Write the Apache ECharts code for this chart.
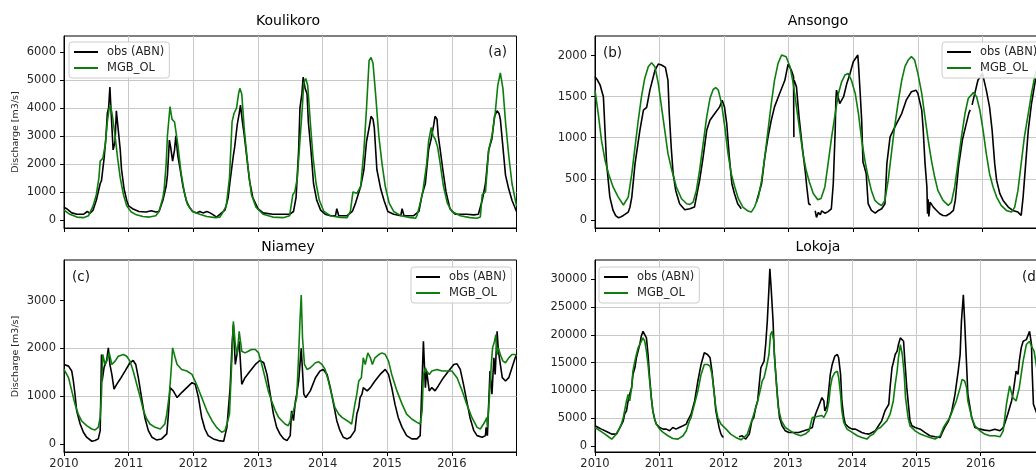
<!DOCTYPE html>
<html>
<head>
<meta charset="utf-8">
<script src="https://cdn.jsdelivr.net/npm/echarts@6/dist/echarts.min.js"></script>
<style>
  html, body { margin: 0; padding: 0; overflow: hidden; background: #fff; }
  #one { width: 1048px; height: 470px; }
</style>
</head>
<body>
<div id="one"></div>
<script>
// discharge series, [decimal year, m3/s]
var kouObs = [[2010.00,450],[2010.04,400],[2010.12,250],[2010.20,200],[2010.30,200],[2010.36,300],[2010.40,230],[2010.45,350],[2010.50,700],[2010.56,1300],[2010.58,1400],[2010.62,2200],[2010.65,3000],[2010.67,3800],[2010.69,4000],[2010.71,4750],[2010.73,3800],[2010.76,2500],[2010.79,2800],[2010.81,3900],[2010.84,3200],[2010.87,2500],[2010.89,1800],[2010.93,1100],[2010.97,700],
  [2011.00,500],[2011.06,400],[2011.16,300],[2011.27,280],[2011.35,330],[2011.42,280],[2011.47,300],[2011.53,700],[2011.58,1200],[2011.60,1600],[2011.63,2850],[2011.65,2600],[2011.68,2100],[2011.71,2500],[2011.73,3000],[2011.76,2300],[2011.79,1900],[2011.84,1200],[2011.89,700],[2011.94,450],[2011.99,300],
  [2012.05,250],[2012.10,300],[2012.15,250],[2012.21,300],[2012.26,250],[2012.31,180],[2012.36,100],[2012.41,200],[2012.49,350],[2012.54,800],[2012.57,1400],[2012.62,2300],[2012.64,2600],[2012.68,3400],[2012.71,3800],[2012.73,4100],[2012.76,3500],[2012.79,3000],[2012.83,2200],[2012.87,1400],[2012.92,800],[2013.00,400],
  [2013.08,250],[2013.23,200],[2013.39,200],[2013.49,200],[2013.55,300],[2013.59,800],[2013.63,2500],[2013.65,4000],[2013.68,4500],[2013.70,5100],[2013.73,4700],[2013.76,4500],[2013.78,3500],[2013.82,2500],[2013.86,1300],[2013.91,700],[2013.97,350],[2014.04,200],
  [2014.12,150],[2014.20,150],[2014.22,400],[2014.25,150],[2014.38,150],[2014.46,300],[2014.51,600],[2014.59,1200],[2014.64,1800],[2014.68,2800],[2014.72,3300],[2014.75,3700],[2014.78,3600],[2014.80,3300],[2014.84,1800],[2014.90,1100],[2014.95,700],[2015.01,300],
  [2015.10,200],[2015.21,150],[2015.23,400],[2015.26,150],[2015.41,150],[2015.49,300],[2015.54,900],[2015.59,1300],[2015.64,2500],[2015.68,2900],[2015.72,3400],[2015.74,3700],[2015.77,3600],[2015.79,3000],[2015.82,2500],[2015.86,1800],[2015.91,1000],[2015.97,400],[2016.05,200],
  [2016.08,200],[2016.23,200],[2016.34,180],[2016.41,200],[2016.47,700],[2016.52,1300],[2016.57,2500],[2016.62,2900],[2016.66,3700],[2016.70,3900],[2016.73,3800],[2016.75,3600],[2016.79,2600],[2016.83,1600],[2016.88,1100],[2016.93,700],[2017.00,300]];

var kouSim = [[2010.00,350],[2010.09,200],[2010.20,100],[2010.30,80],[2010.38,150],[2010.45,500],[2010.50,900],[2010.54,1500],[2010.56,2100],[2010.60,2200],[2010.64,2700],[2010.67,3500],[2010.70,4000],[2010.72,4100],[2010.75,3700],[2010.79,3000],[2010.83,2200],[2010.87,1500],[2010.92,900],[2010.97,500],
  [2011.04,280],[2011.12,180],[2011.22,120],[2011.32,100],[2011.42,150],[2011.47,300],[2011.53,800],[2011.55,1100],[2011.58,2000],[2011.60,3000],[2011.64,4050],[2011.67,3600],[2011.71,3500],[2011.76,2700],[2011.81,1700],[2011.86,1000],[2011.91,550],[2011.99,300],
  [2012.10,200],[2012.21,120],[2012.34,80],[2012.41,100],[2012.44,200],[2012.51,500],[2012.56,1500],[2012.60,3500],[2012.63,3800],[2012.67,4000],[2012.70,4500],[2012.72,4700],[2012.75,4500],[2012.79,3200],[2012.85,1800],[2012.90,900],[2012.97,450],
  [2013.08,200],[2013.23,100],[2013.39,80],[2013.49,150],[2013.54,900],[2013.57,1000],[2013.61,1500],[2013.64,2500],[2013.68,3800],[2013.71,4900],[2013.74,5050],[2013.77,4800],[2013.81,3500],[2013.85,2300],[2013.90,1300],[2013.95,700],
  [2014.02,300],[2014.12,150],[2014.27,90],[2014.38,80],[2014.43,300],[2014.47,1000],[2014.53,950],[2014.59,1200],[2014.64,2500],[2014.68,4000],[2014.72,5700],[2014.75,5800],[2014.78,5600],[2014.82,4500],[2014.87,3000],[2014.92,2000],[2014.97,1200],
  [2015.03,600],[2015.10,300],[2015.21,150],[2015.36,80],[2015.44,60],[2015.46,150],[2015.51,600],[2015.55,1000],[2015.61,2000],[2015.64,2800],[2015.68,3300],[2015.71,3000],[2015.74,2900],[2015.78,2600],[2015.82,2000],[2015.87,1200],[2015.93,600],
  [2016.00,300],[2016.13,150],[2016.28,80],[2016.39,60],[2016.44,100],[2016.47,900],[2016.52,1000],[2016.57,2500],[2016.62,3000],[2016.67,3800],[2016.71,4800],[2016.75,5250],[2016.79,4700],[2016.83,3500],[2016.88,2300],[2016.93,1300],[2017.00,500]];

var ansObs = [[2010.00,1743],[2010.04,1700],[2010.08,1640],[2010.13,1500],[2010.155,1090],[2010.18,684],[2010.23,277],[2010.28,114],[2010.32,50],[2010.36,25],[2010.40,35],[2010.44,53],[2010.515,94],[2010.54,150],[2010.57,277],[2010.62,684],[2010.695,1090],[2010.75,1336],[2010.80,1370],[2010.85,1580],[2010.93,1825],[2010.98,1898],
  [2011.03,1886],[2011.09,1857],[2011.13,1700],[2011.15,1295],[2011.18,888],[2011.21,562],[2011.25,358],[2011.31,196],[2011.39,122],[2011.47,134],[2011.54,155],[2011.57,170],[2011.62,480],[2011.675,766],[2011.73,1090],[2011.78,1213],[2011.855,1295],[2011.93,1376],[2011.97,1458],
  [2012.005,1376],[2012.04,1173],[2012.08,766],[2012.12,440],[2012.16,318],[2012.21,196],[2012.265,134],[2012.38,null],[2012.50,216],[2012.53,236],[2012.58,440],[2012.63,766],[2012.68,1010],[2012.73,1213],[2012.78,1376],[2012.84,1500],[2012.89,1600],[2012.94,1700],[2012.99,1898],
  [2013.04,1825],[2013.075,1743],[2013.08,1010],[2013.082,null],[2013.085,1700],[2013.12,1620],[2013.16,1254],[2013.21,888],[2013.26,562],[2013.28,400],[2013.31,196],[2013.34,180],[2013.38,null],[2013.41,110],[2013.43,30],[2013.46,90],[2013.49,60],[2013.51,110],[2013.56,80],[2013.61,100],[2013.66,134],[2013.69,440],[2013.72,1092],[2013.73,1458],[2013.74,1580],[2013.77,1600],[2013.79,1417],[2013.82,1458],[2013.85,1500],[2013.90,1662],[2013.95,1784],
  [2014.00,1927],[2014.07,2008],[2014.08,1900],[2014.11,1500],[2014.13,1213],[2014.15,705],[2014.17,650],[2014.20,562],[2014.23,196],[2014.28,114],[2014.34,81],[2014.39,114],[2014.44,134],[2014.49,196],[2014.52,684],[2014.57,1010],[2014.62,1092],[2014.67,1173],[2014.75,1295],[2014.82,1458],[2014.90,1560],[2014.97,1580],
  [2015.00,1540],[2015.06,1336],[2015.08,1133],[2015.11,700],[2015.14,400],[2015.15,74],[2015.16,250],[2015.17,40],[2015.19,216],[2015.24,155],[2015.29,114],[2015.34,73],[2015.39,53],[2015.44,49],[2015.49,73],[2015.55,114],[2015.58,240],[2015.63,650],[2015.69,975],[2015.74,1138],[2015.79,1300],[2015.81,1340],[2015.825,null],[2015.84,1400],[2015.93,1700],
  [2016.00,1784],[2016.03,1800],[2016.06,1580],[2016.11,1376],[2016.15,1092],[2016.19,684],[2016.22,480],[2016.27,318],[2016.32,236],[2016.40,155],[2016.47,114],[2016.55,94],[2016.60,53],[2016.63,277],[2016.67,684],[2016.71,1092],[2016.76,1417],[2016.82,1700],[2016.90,1900],[2017.00,1950]];

var ansSim = [[2010.00,1580],[2010.05,1295],[2010.10,970],[2010.155,725],[2010.21,562],[2010.28,400],[2010.36,277],[2010.44,180],[2010.515,277],[2010.57,562],[2010.62,888],[2010.67,1213],[2010.72,1500],[2010.77,1723],[2010.825,1866],[2010.876,1914],[2010.928,1866],[2010.98,1662],
  [2011.03,1376],[2011.08,1092],[2011.13,806],[2011.19,603],[2011.26,400],[2011.34,257],[2011.42,196],[2011.47,187],[2011.52,216],[2011.57,358],[2011.62,603],[2011.675,929],[2011.73,1254],[2011.78,1478],[2011.83,1588],[2011.87,1612],[2011.91,1580],[2011.96,1417],
  [2012.01,1133],[2012.06,806],[2012.11,562],[2012.165,400],[2012.22,257],[2012.29,155],[2012.37,106],[2012.42,94],[2012.47,155],[2012.53,277],[2012.58,480],[2012.63,766],[2012.68,1092],[2012.73,1417],[2012.78,1700],[2012.835,1906],[2012.89,2008],[2012.92,2028],[2012.96,1988],
  [2013.02,1866],[2013.07,1662],[2013.12,1376],[2013.17,1092],[2013.22,806],[2013.27,603],[2013.32,460],[2013.38,320],[2013.45,244],[2013.50,260],[2013.56,400],[2013.61,684],[2013.665,1010],[2013.72,1295],[2013.77,1540],[2013.82,1682],[2013.87,1764],[2013.92,1784],[2013.97,1703],
  [2014.03,1540],[2014.08,1295],[2014.13,970],[2014.18,725],[2014.23,521],[2014.28,358],[2014.335,236],[2014.39,196],[2014.44,175],[2014.49,236],[2014.54,480],[2014.59,806],[2014.64,1133],[2014.70,1458],[2014.75,1700],[2014.80,1866],[2014.85,1947],[2014.90,1988],[2014.95,1947],
  [2015.00,1784],[2015.06,1540],[2015.11,1254],[2015.16,970],[2015.21,725],[2015.26,521],[2015.31,358],[2015.39,236],[2015.47,175],[2015.52,216],[2015.57,400],[2015.62,684],[2015.675,1010],[2015.73,1295],[2015.78,1478],[2015.86,1550],[2015.91,1500],[2015.96,1336],
  [2016.01,1092],[2016.06,806],[2016.11,562],[2016.165,400],[2016.22,277],[2016.29,175],[2016.37,114],[2016.45,94],[2016.50,155],[2016.55,358],[2016.60,684],[2016.65,1010],[2016.71,1295],[2016.76,1540],[2016.82,1784],[2016.90,1950],[2017.00,2000]];

var niaObs = [[2010.00,1663],[2010.07,1628],[2010.12,1525],[2010.145,1317],[2010.17,1040],[2010.196,693],[2010.25,416],[2010.30,243],[2010.35,139],[2010.43,55],[2010.48,69],[2010.53,104],[2010.56,277],[2010.58,1871],[2010.59,1317],[2010.62,1600],[2010.66,1750],[2010.686,2010],[2010.71,1663],[2010.74,1455],[2010.774,1144],[2010.815,1247],[2010.867,1352],[2010.944,1525],
  [2011.02,1698],[2011.07,1746],[2011.11,1663],[2011.15,1386],[2011.20,970],[2011.25,554],[2011.305,277],[2011.36,139],[2011.43,83],[2011.51,104],[2011.59,208],[2011.615,624],[2011.64,1178],[2011.667,1213],[2011.69,1109],[2011.72,1144],[2011.75,970],[2011.82,1074],[2011.90,1178],[2011.98,1282],
  [2012.03,1247],[2012.08,970],[2012.13,554],[2012.18,312],[2012.23,173],[2012.31,104],[2012.39,69],[2012.47,55],[2012.49,173],[2012.52,346],[2012.57,1178],[2012.60,2079],[2012.62,2495],[2012.65,1663],[2012.68,1663],[2012.71,2149],[2012.75,1247],[2012.80,1386],[2012.88,1525],[2012.96,1663],
  [2013.03,1746],[2013.09,1698],[2013.14,1455],[2013.19,1040],[2013.24,624],[2013.29,346],[2013.34,208],[2013.40,104],[2013.45,69],[2013.50,173],[2013.52,693],[2013.55,485],[2013.58,901],[2013.60,1040],[2013.63,1317],[2013.67,2000],[2013.71,1040],[2013.74,970],[2013.81,1109],[2013.89,1386],[2013.96,1525],
  [2014.01,1559],[2014.07,1455],[2014.12,1178],[2014.17,832],[2014.22,485],[2014.27,277],[2014.32,139],[2014.38,104],[2014.43,139],[2014.45,173],[2014.50,277],[2014.53,624],[2014.56,762],[2014.58,970],[2014.61,1040],[2014.63,1178],[2014.69,1109],[2014.74,1178],[2014.81,1317],[2014.89,1455],[2014.97,1559],
  [2015.02,1455],[2015.07,1178],[2015.12,832],[2015.17,554],[2015.23,346],[2015.30,173],[2015.38,104],[2015.46,104],[2015.51,173],[2015.56,2149],[2015.59,1178],[2015.61,1525],[2015.65,1109],[2015.69,1178],[2015.74,1109],[2015.79,1213],[2015.87,1386],[2015.95,1525],
  [2016.03,1663],[2016.08,1677],[2016.13,1559],[2016.18,1247],[2016.23,901],[2016.28,554],[2016.34,277],[2016.39,173],[2016.47,139],[2016.52,173],[2016.53,346],[2016.55,173],[2016.58,1178],[2016.59,1525],[2016.62,1040],[2016.65,1802],[2016.67,1455],[2016.70,2356],[2016.72,1940],[2016.78,1386],[2016.83,1317],[2016.88,1386],[2016.93,1594],[2016.98,1802],[2017.00,1871]];

var niaSim = [[2010.00,1559],[2010.07,1386],[2010.12,1109],[2010.17,832],[2010.22,624],[2010.27,485],[2010.35,381],[2010.43,312],[2010.48,291],[2010.53,346],[2010.56,554],[2010.58,1040],[2010.60,1871],[2010.635,1663],[2010.66,1733],[2010.70,1906],[2010.74,1663],[2010.79,1733],[2010.84,1836],[2010.92,1871],[2010.97,1836],
  [2011.02,1733],[2011.07,1525],[2011.125,1247],[2011.18,970],[2011.23,693],[2011.28,520],[2011.33,416],[2011.41,346],[2011.49,312],[2011.56,416],[2011.59,624],[2011.63,1040],[2011.66,1594],[2011.68,2010],[2011.72,1802],[2011.75,1663],[2011.82,1559],[2011.90,1525],[2011.98,1455],
  [2012.05,1247],[2012.13,970],[2012.21,693],[2012.29,485],[2012.36,346],[2012.44,243],[2012.47,220],[2012.49,277],[2012.52,416],[2012.56,624],[2012.60,1871],[2012.62,2564],[2012.65,2079],[2012.68,1871],[2012.71,2356],[2012.75,1940],[2012.80,1906],[2012.85,1940],[2012.90,1975],[2012.96,1975],
  [2013.01,1906],[2013.06,1663],[2013.11,1386],[2013.16,1109],[2013.21,901],[2013.27,693],[2013.32,554],[2013.37,485],[2013.42,416],[2013.47,381],[2013.50,485],[2013.52,624],[2013.55,693],[2013.60,970],[2013.63,1871],[2013.65,2564],[2013.67,3118],[2013.69,2218],[2013.72,1663],[2013.76,1559],[2013.81,1594],[2013.89,1698],[2013.94,1719],[2013.99,1663],
  [2014.04,1559],[2014.09,1317],[2014.14,1040],[2014.19,762],[2014.25,624],[2014.30,554],[2014.38,485],[2014.45,416],[2014.48,450],[2014.50,832],[2014.53,1040],[2014.56,1317],[2014.60,1386],[2014.63,1802],[2014.66,1663],[2014.70,1906],[2014.74,1802],[2014.77,1663],[2014.81,1802],[2014.87,1871],[2014.92,1906],[2014.97,1871],
  [2015.02,1733],[2015.07,1455],[2015.15,1109],[2015.23,832],[2015.30,624],[2015.38,520],[2015.46,450],[2015.51,416],[2015.54,693],[2015.56,1455],[2015.59,1594],[2015.61,1525],[2015.65,1455],[2015.69,1525],[2015.77,1559],[2015.85,1525],[2015.92,1525],
  [2016.00,1525],[2016.08,1386],[2016.16,1109],[2016.23,832],[2016.31,554],[2016.39,346],[2016.44,312],[2016.49,416],[2016.52,485],[2016.54,554],[2016.55,346],[2016.58,970],[2016.61,1663],[2016.63,2010],[2016.66,2149],[2016.68,2287],[2016.70,1871],[2016.72,2010],[2016.75,1871],[2016.79,1733],[2016.83,1698],[2016.88,1802],[2016.93,1871],[2016.98,1871],[2017.00,1836]];

var lokObs = [[2010.00,3640],[2010.05,3340],[2010.10,3040],[2010.155,2740],[2010.21,2445],[2010.26,2147],[2010.28,2445],[2010.335,2147],[2010.36,2740],[2010.39,3340],[2010.41,3640],[2010.44,4530],[2010.46,5725],[2010.49,6320],[2010.515,8110],[2010.54,9300],[2010.57,10500],[2010.59,12880],[2010.62,14075],[2010.644,15865],[2010.67,17060],[2010.696,18250],[2010.72,19740],[2010.747,20635],[2010.765,20935],[2010.80,19440],[2010.825,16460],[2010.85,12290],[2010.876,8700],[2010.90,6320],[2010.928,4830],[2010.954,3940],
  [2011.005,3340],[2011.06,3040],[2011.11,3040],[2011.16,2740],[2011.21,3340],[2011.26,3040],[2011.31,3340],[2011.37,3640],[2011.42,3940],[2011.44,4530],[2011.495,5725],[2011.55,8110],[2011.60,11690],[2011.65,14670],[2011.70,16760],[2011.73,16800],[2011.75,16460],[2011.79,15865],[2011.82,13480],[2011.856,9300],[2011.88,6320],[2011.91,4530],[2011.93,3340],[2011.96,2147],[2011.985,1670],
  [2012.00,1600],[2012.10,null],[2012.24,1670],[2012.29,1850],[2012.345,1250],[2012.37,950],[2012.40,2147],[2012.44,4530],[2012.47,5130],[2012.50,6920],[2012.53,8110],[2012.55,10500],[2012.58,14075],[2012.60,14370],[2012.63,15270],[2012.655,18250],[2012.68,22420],[2012.706,28390],[2012.72,31850],[2012.74,28390],[2012.77,22420],[2012.79,16460],[2012.82,11690],[2012.845,8110],[2012.87,5130],[2012.91,3640],[2012.96,2740],
  [2013.015,2445],[2013.09,2445],[2013.17,2445],[2013.25,2740],[2013.325,3040],[2013.38,3340],[2013.41,4830],[2013.43,5725],[2013.48,7215],[2013.51,6920],[2013.53,8700],[2013.56,8110],[2013.575,6320],[2013.61,7215],[2013.64,10500],[2013.66,12880],[2013.69,14670],[2013.73,16160],[2013.77,16460],[2013.79,15865],[2013.82,12880],[2013.84,8110],[2013.87,5130],[2013.895,3940],[2013.95,3340],
  [2014.00,3040],[2014.05,3040],[2014.10,2740],[2014.15,2445],[2014.20,2270],[2014.26,2147],[2014.31,2445],[2014.36,2740],[2014.41,3640],[2014.46,4530],[2014.51,6320],[2014.57,7515],[2014.59,10500],[2014.62,14075],[2014.64,14970],[2014.67,16460],[2014.70,17060],[2014.72,18250],[2014.75,19440],[2014.77,19740],[2014.80,18850],[2014.82,15270],[2014.85,10500],[2014.88,6920],[2014.90,4530],[2014.93,3640],[2014.98,3340],
  [2015.06,3040],[2015.13,2445],[2015.21,1850],[2015.29,1670],[2015.37,1550],[2015.39,2147],[2015.44,3340],[2015.50,4530],[2015.55,6320],[2015.60,9300],[2015.65,13480],[2015.68,16460],[2015.70,22420],[2015.73,27190],[2015.75,22420],[2015.78,14670],[2015.80,9300],[2015.86,5130],[2015.91,3340],[2015.99,3040],
  [2016.06,2860],[2016.14,2740],[2016.22,3040],[2016.30,2740],[2016.32,2445],[2016.35,3340],[2016.37,3940],[2016.42,5725],[2016.48,8110],[2016.50,9300],[2016.53,11690],[2016.55,13480],[2016.58,12880],[2016.60,15270],[2016.63,17650],[2016.66,18850],[2016.71,19140],[2016.76,20635],[2016.79,18250],[2016.80,13480],[2016.82,7515],[2016.90,5000],[2017.00,4000]];

var lokSim = [[2010.00,3340],[2010.08,2740],[2010.155,2147],[2010.21,1670],[2010.26,1250],[2010.31,1850],[2010.36,2740],[2010.41,3940],[2010.44,5130],[2010.46,6320],[2010.49,8110],[2010.515,9300],[2010.54,8110],[2010.57,10500],[2010.59,13480],[2010.62,15270],[2010.644,16460],[2010.67,17650],[2010.696,18250],[2010.72,18550],[2010.747,19440],[2010.773,18850],[2010.80,17060],[2010.825,14670],[2010.85,11690],[2010.876,8700],[2010.90,6320],[2010.928,4830],[2010.954,3940],
  [2011.005,3040],[2011.06,2445],[2011.135,1850],[2011.21,1370],[2011.29,1250],[2011.37,1850],[2011.42,2740],[2011.47,4530],[2011.495,5130],[2011.52,6320],[2011.56,8110],[2011.60,9900],[2011.65,12880],[2011.70,14670],[2011.75,14670],[2011.79,14370],[2011.82,12880],[2011.856,9300],[2011.88,6920],[2011.91,5130],[2011.96,3940],
  [2012.04,3040],[2012.11,2147],[2012.19,1550],[2012.27,1130],[2012.32,1550],[2012.37,2147],[2012.42,3940],[2012.47,5725],[2012.53,8110],[2012.58,10500],[2012.60,11690],[2012.63,12290],[2012.665,14075],[2012.706,16460],[2012.73,20040],[2012.755,20635],[2012.78,18850],[2012.80,14670],[2012.83,9900],[2012.85,6920],[2012.90,4530],[2012.96,3340],
  [2013.04,2740],[2013.12,2147],[2013.20,1850],[2013.27,2147],[2013.33,2740],[2013.38,5130],[2013.41,5130],[2013.53,5500],[2013.56,5130],[2013.59,4830],[2013.61,6320],[2013.64,8110],[2013.66,10500],[2013.69,12290],[2013.73,13180],[2013.77,13480],[2013.79,12290],[2013.82,9300],[2013.84,6320],[2013.87,4230],[2013.92,3040],
  [2014.00,2445],[2014.08,1850],[2014.15,1550],[2014.23,1250],[2014.28,1850],[2014.33,2147],[2014.39,3040],[2014.44,3340],[2014.49,3940],[2014.54,4530],[2014.59,5725],[2014.64,8110],[2014.67,11090],[2014.70,13480],[2014.72,15865],[2014.75,18250],[2014.76,18550],[2014.78,16460],[2014.81,12880],[2014.83,8700],[2014.87,5130],[2014.90,3640],[2014.98,2740],
  [2015.06,2147],[2015.13,1850],[2015.21,1550],[2015.29,1250],[2015.37,1850],[2015.42,3340],[2015.47,4230],[2015.52,5130],[2015.57,6620],[2015.62,8110],[2015.68,10500],[2015.71,11990],[2015.75,11690],[2015.78,10500],[2015.80,8110],[2015.86,5130],[2015.91,3640],[2015.99,2740],
  [2016.06,2147],[2016.14,1850],[2016.22,1850],[2016.30,1670],[2016.35,2740],[2016.40,7515],[2016.45,10800],[2016.50,8700],[2016.55,8110],[2016.60,10500],[2016.66,15270],[2016.71,18250],[2016.76,18850],[2016.79,17950],[2016.83,17060],[2016.90,12000],[2017.00,6000]];

var stations = ['Koulikoro', 'Ansongo', 'Niamey', 'Lokoja'];
var panelTags = ['(a)', '(b)', '(c)', '(d)'];
var yearTicks = [2010, 2011, 2012, 2013, 2014, 2015, 2016];
var yTicks = [
  [0, 1000, 2000, 3000, 4000, 5000, 6000],
  [0, 500, 1000, 1500, 2000],
  [0, 1000, 2000, 3000],
  [0, 5000, 10000, 15000, 20000, 25000, 30000]
];
var obsData = [kouObs, ansObs, niaObs, lokObs];
var simData = [kouSim, ansSim, niaSim, lokSim];
var seriesNames = ['obs (ABN)', 'MGB_OL'];

var FONT = 'DejaVu Sans';
var yRange = [[-290, 6570], [-100, 2240], [-170, 3850], [-1070, 33450]];
var boxes = [
  { left: 64, top: 36, width: 452.5, height: 192 },
  { left: 595, top: 36, width: 452, height: 192 },
  { left: 64, top: 260, width: 452.5, height: 193 },
  { left: 595, top: 260, width: 452, height: 193 }
];

var chart = echarts.init(document.getElementById('one'), null, { renderer: 'canvas' });

var grids = [], xAxes = [], yAxes = [], series = [], legends = [];
for (var i = 0; i < 4; i++) {
  grids.push({
    left: boxes[i].left, top: boxes[i].top, width: boxes[i].width, height: boxes[i].height,
    show: true, borderColor: '#000', borderWidth: 1, backgroundColor: '#fff'
  });
  xAxes.push({
    type: 'value', gridIndex: i, min: 2010, max: 2017, interval: 1,
    axisLine: { show: true, onZero: false, lineStyle: { color: '#000', width: 1 } },
    axisTick: { show: true, length: 4, lineStyle: { color: '#000', width: 1 } },
    axisLabel: {
      show: i >= 2, fontFamily: FONT, fontSize: 11.5, color: '#262626', margin: 6,
      formatter: function (v) { return yearTicks.indexOf(v) >= 0 ? String(v) : ''; }
    },
    splitLine: { show: true, showMinLine: false, showMaxLine: false, lineStyle: { color: '#c8c8c8', width: 1 } }
  });
  yAxes.push({
    type: 'value', gridIndex: i, min: yRange[i][0], max: yRange[i][1],
    axisLine: { show: true, lineStyle: { color: '#000', width: 1 } },
    axisTick: { show: true, length: 4, customValues: yTicks[i], lineStyle: { color: '#000', width: 1 } },
    axisLabel: {
      fontFamily: FONT, fontSize: 11.5, color: '#262626', margin: 8,
      customValues: yTicks[i],
      formatter: function (v) { return String(v); }
    },
    splitLine: { show: true, showMinLine: false, showMaxLine: false, lineStyle: { color: '#c8c8c8', width: 1 } }
  });
  series.push({
    name: seriesNames[0], type: 'line', xAxisIndex: i, yAxisIndex: i,
    data: obsData[i], symbol: 'none', showSymbol: false, connectNulls: false,
    lineStyle: { color: '#000', width: 1.6 }, itemStyle: { color: '#000' }, z: 2
  });
  series.push({
    name: seriesNames[1], type: 'line', xAxisIndex: i, yAxisIndex: i,
    data: simData[i], symbol: 'none', showSymbol: false,
    lineStyle: { color: '#0d7d0d', width: 1.6 }, itemStyle: { color: '#0d7d0d' }, z: 3
  });
}

var legendPos = [[69, 42], [942, 42], [411, 267], [599, 267]];
for (var j = 0; j < 4; j++) {
  legends.push({
    data: seriesNames, orient: 'vertical', left: legendPos[j][0], top: legendPos[j][1],
    icon: 'rect', itemWidth: 24, itemHeight: 2, itemGap: 2, selectedMode: false,
    padding: [3, 5, 3, 5], borderColor: '#cccccc', borderWidth: 1, borderRadius: 3,
    backgroundColor: 'rgba(255,255,255,0.85)',
    textStyle: { fontFamily: FONT, fontSize: 11.5, color: '#262626', lineHeight: 14, padding: [0, 0, 0, 4] }
  });
}

var titlePos = [[288, 21], [818, 21], [288, 247.5], [818, 247.5]];
var tagPos = [[507, 52.5, 'right'], [603, 53, 'left'], [72, 277, 'left'], [1022, 277, 'left']];
var texts = [];
for (var k = 0; k < 4; k++) {
  texts.push({
    type: 'text', x: titlePos[k][0], y: titlePos[k][1], silent: true,
    style: { text: stations[k], font: '14px "DejaVu Sans"', fill: '#000', textAlign: 'center', textVerticalAlign: 'middle' }
  });
  texts.push({
    type: 'text', x: tagPos[k][0], y: tagPos[k][1], silent: true, z: 100,
    style: { text: panelTags[k], font: '13.5px "DejaVu Sans"', fill: '#111', textAlign: tagPos[k][2], textVerticalAlign: 'middle' }
  });
}
[[16, 132], [16, 356.5]].forEach(function (p) {
  texts.push({
    type: 'text', x: p[0], y: p[1], rotation: Math.PI / 2, silent: true,
    style: { text: 'Discharge [m3/s]', font: '9.5px "DejaVu Sans"', fill: '#262626', textAlign: 'center', textVerticalAlign: 'middle' }
  });
});

var option = {
  animation: false,
  backgroundColor: '#fff',
  grid: grids,
  xAxis: xAxes,
  yAxis: yAxes,
  legend: legends,
  series: series,
  graphic: { elements: texts }
};
chart.setOption(option);
</script>
</body>
</html>
